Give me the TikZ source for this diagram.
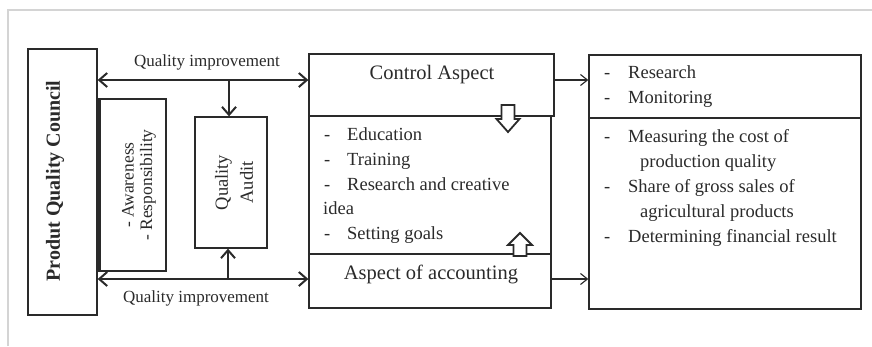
\documentclass[tikz,border=0pt]{standalone}
\usepackage{fontspec}
\setmainfont{Liberation Serif}
\usetikzlibrary{arrows.meta}
\definecolor{ink}{HTML}{2A2A2A}
\definecolor{frame}{HTML}{D4D4D4}
\begin{document}
\begin{tikzpicture}[x=1pt,y=-1pt,
  box/.style={draw=ink, line width=1.3pt, inner sep=0pt},
  txt/.style={inner sep=0pt, text=ink, font=\fontsize{18.5}{22}\selectfont},
  head/.style={inner sep=0pt, text=ink, font=\fontsize{20.5}{24}\selectfont},
  itm/.style={txt, anchor=base west},
  qlab/.style={inner sep=0pt, text=ink, font=\fontsize{17}{20}\selectfont},
  thickarr/.style={draw=ink, line width=2pt, {Straight Barb[length=8pt,width=14pt]}-{Straight Barb[length=8pt,width=14pt]}},
  downarr/.style={draw=ink, line width=2pt, -{Straight Barb[length=8pt,width=14pt]}},
  thinarr/.style={draw=ink, line width=1.1pt, -{Straight Barb[length=7pt,width=11pt]}},
  hollow/.style={draw=ink, line width=1.8pt, fill=white, line join=miter}
]
\useasboundingbox (0,0) rectangle (872,346);
% outer frame
\draw[frame, line width=2pt] (8,346) -- (8,10) -- (872,10);

% left boxes
\node[box, minimum width=69pt, minimum height=266pt] (council) at (62.5,182) {};
\node[inner sep=0pt, rotate=90, text=ink, font=\fontsize{20}{24}\selectfont\bfseries] (councilt) at (55,181) {Produt Quality Council};

\node[box, minimum width=66pt, minimum height=172pt] (aware) at (133,185) {};
\draw[ink, line width=2.6pt] (aware.north west) -- (aware.south west);
\node[inner sep=0pt, rotate=90, align=center, text=ink, font=\fontsize{17.5}{18.5}\selectfont] (awaret) at (139,185) {- Awareness\\- Responsibility};

\node[box, minimum width=72pt, minimum height=131pt] (audit) at (231,182.5) {};
\node[inner sep=0pt, rotate=90, align=center, text=ink, font=\fontsize{18.5}{25}\selectfont] (auditt) at (234,182.5) {Quality\\Audit};

% middle boxes
\node[box, minimum width=245pt, minimum height=62pt] (control) at (431.5,85) {};
\node[head] (controlt) at (432,75) {Control Aspect};
\node[box, minimum width=242pt, minimum height=138pt] (list) at (430,185) {};
\node[box, minimum width=242pt, minimum height=54pt] (acct) at (430,281) {};
\node[head] (acctt) at (431,274) {Aspect of accounting};

\node[itm] (l1) at (324,140) {\makebox[23pt][l]{-}Education};
\node[itm] (l2) at (324,165) {\makebox[23pt][l]{-}Training};
\node[itm] (l3) at (324,190) {\makebox[23pt][l]{-}Research and creative};
\node[itm] (l4) at (323,214) {idea};
\node[itm] (l5) at (324,239) {\makebox[23pt][l]{-}Setting goals};

% hollow block arrows
\draw[hollow] (501.5,105) -- (514.5,105) -- (514.5,119) -- (519.5,119) -- (508,132) -- (496.5,119) -- (501.5,119) -- cycle;
\draw[hollow] (513.5,256) -- (526.5,256) -- (526.5,245) -- (532,245) -- (520,233) -- (508,245) -- (513.5,245) -- cycle;

% right boxes
\node[box, minimum width=272pt, minimum height=63pt] (rtop) at (725,86.5) {};
\node[box, minimum width=272pt, minimum height=191pt] (rbot) at (725,213.5) {};

\node[itm] (r1) at (604,78) {\makebox[24pt][l]{-}Research};
\node[itm] (r2) at (604,103) {\makebox[24pt][l]{-}Monitoring};
\node[itm] (r3) at (604,142) {\makebox[24pt][l]{-}Measuring the cost of};
\node[itm] (r4) at (640,167) {production quality};
\node[itm] (r5) at (604,192) {\makebox[24pt][l]{-}Share of gross sales of};
\node[itm] (r6) at (640,217) {agricultural products};
\node[itm] (r7) at (604,242) {\makebox[24pt][l]{-}Determining financial result};

% connectors
\coordinate (qt) at (229,80);
\coordinate (qb) at (228,279);
\draw[thickarr] (council.east |- qt) -- (control.west |- qt);
\draw[downarr] (qt) -- (qt |- audit.north);
\draw[thickarr] (council.east |- qb) -- (acct.west |- qb);
\draw[downarr] (qb) -- (qb |- audit.south);
\node[qlab] (qlt) at (207,62) {Quality improvement};
\node[qlab] (qlb) at (196,298) {Quality improvement};

\draw[thinarr] (control.east |- qt) -- (rtop.west |- qt);
\draw[thinarr] (acct.east |- qb) -- (rbot.west |- qb);
\end{tikzpicture}
\end{document}
